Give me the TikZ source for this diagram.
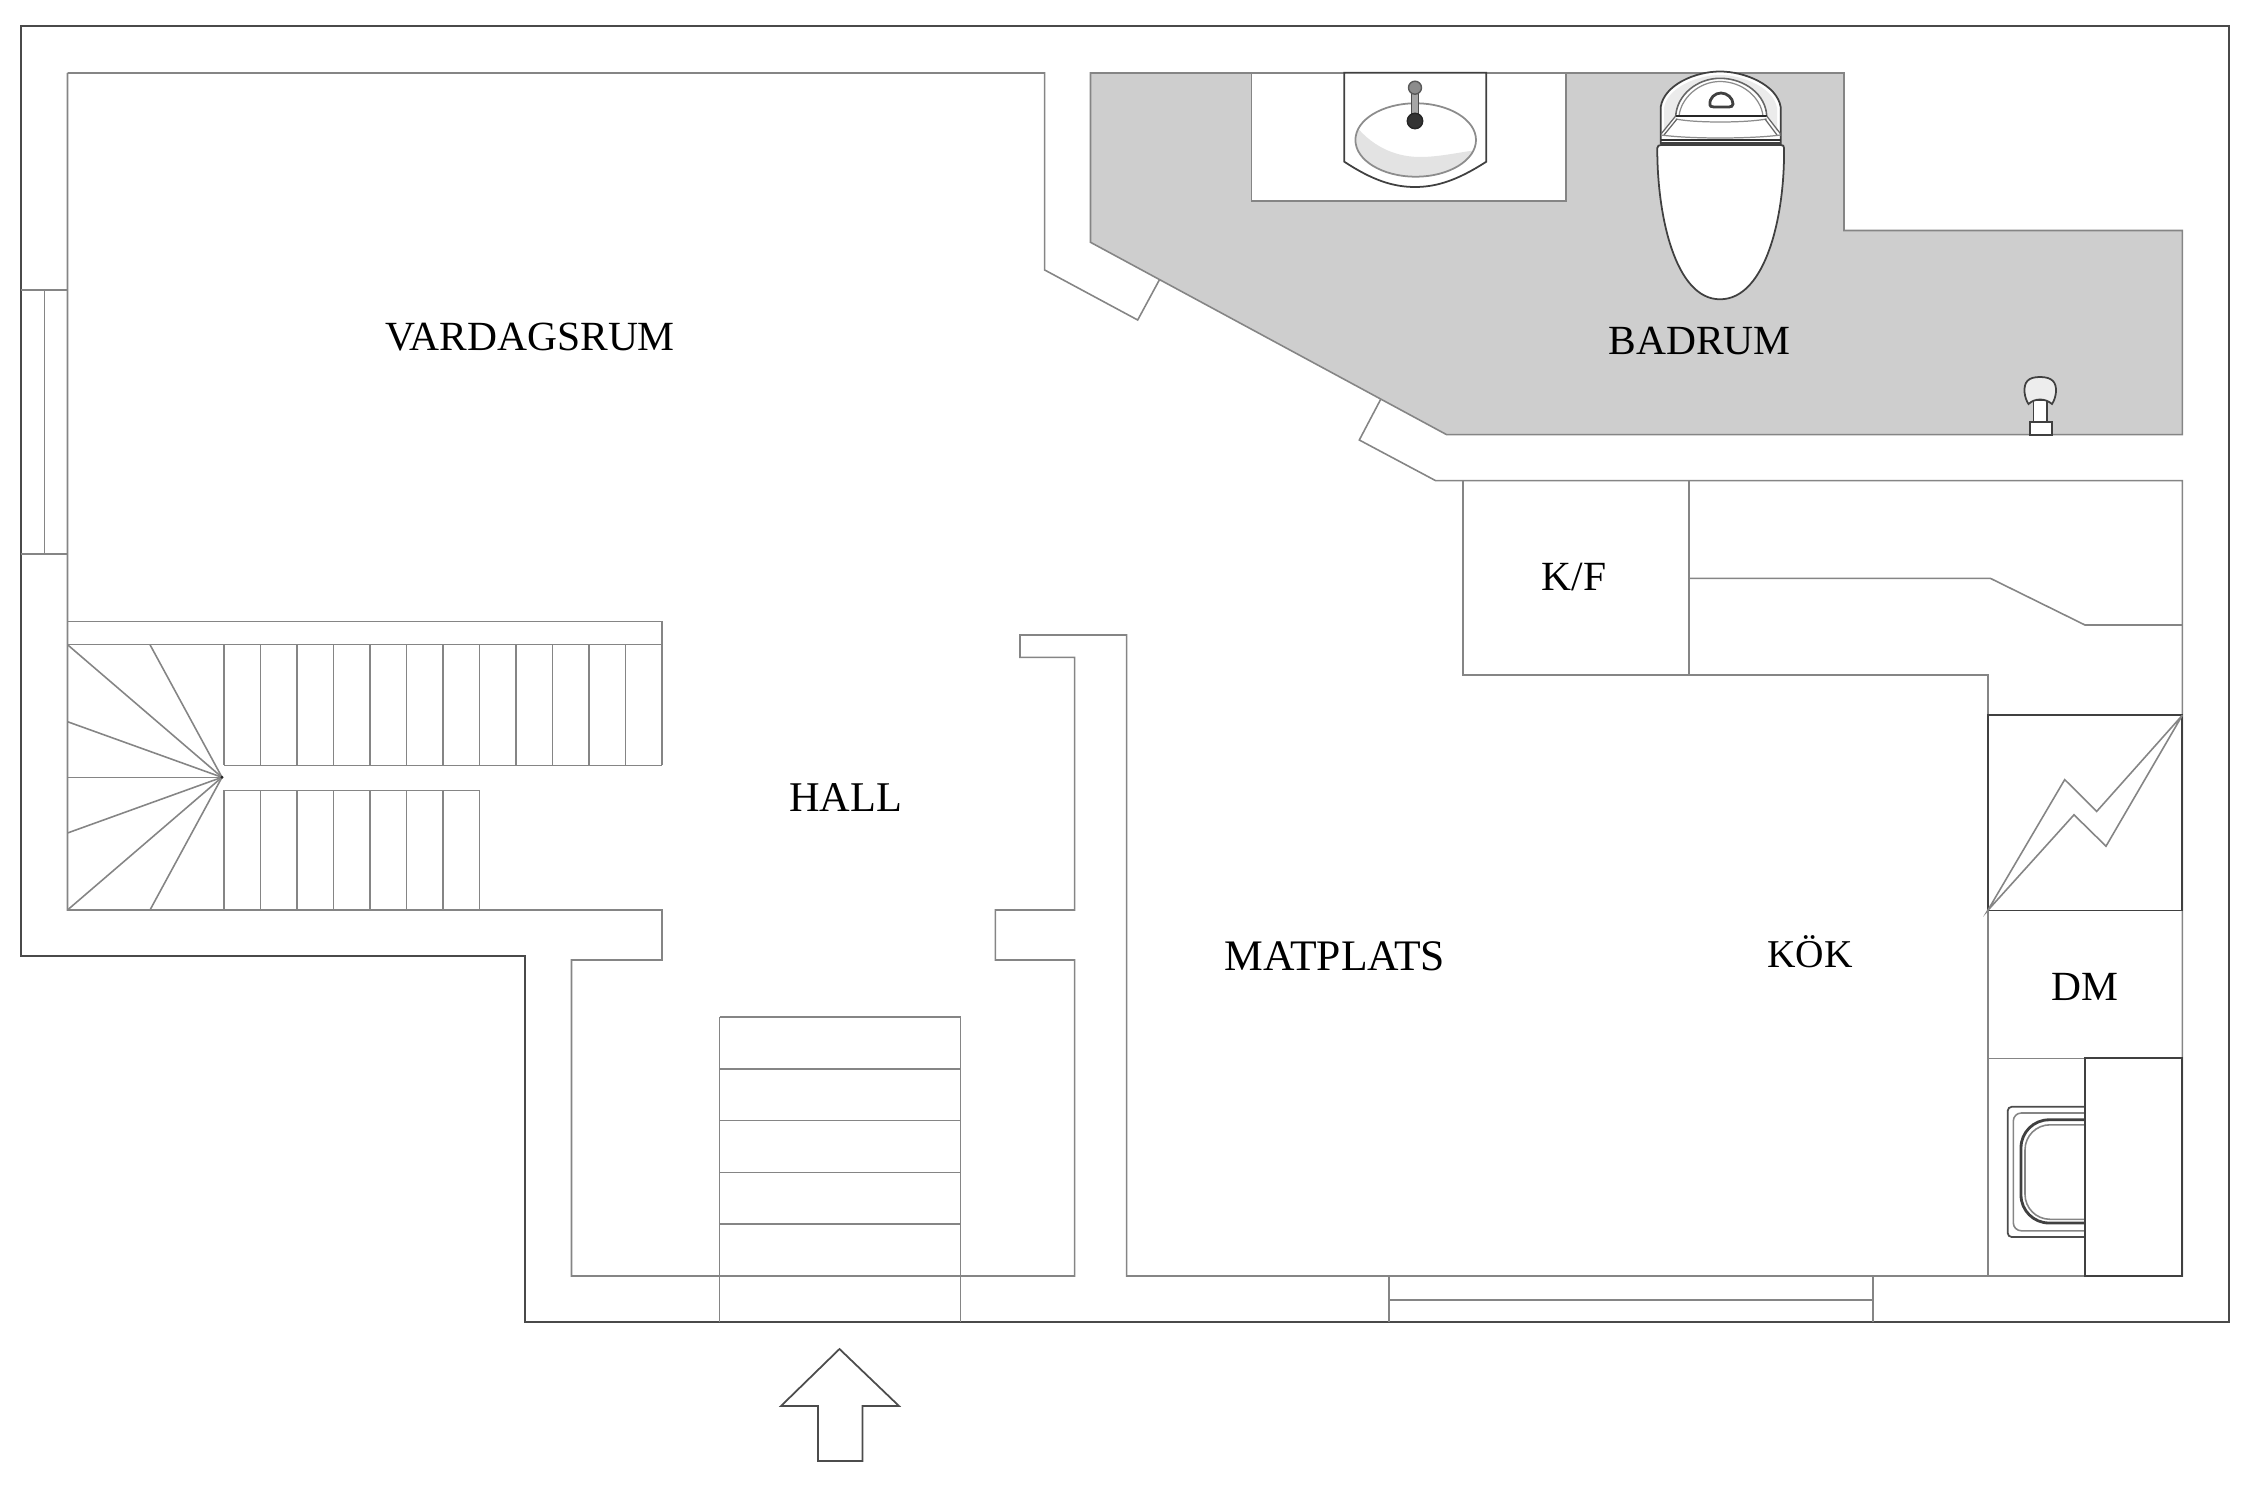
\documentclass[tikz,border=0pt]{standalone}
\usepackage{fontspec}
\setmainfont{Liberation Serif}
\usepackage{tikz}
\definecolor{bathgray}{HTML}{CECECE}
\definecolor{linegray}{HTML}{858585}
\definecolor{walldark}{HTML}{4A4A4A}
\tikzset{
wall/.style={draw=walldark, line width=0.6pt, line join=miter}, partition/.style={draw=linegray, line width=0.45pt}, fixture/.style={draw=black!75, line width=0.5pt, fill=white}, roomlabel/.style={font=\fontsize{11.8}{14}\selectfont, text=black, inner sep=0}}

\begin{document}
\begin{tikzpicture}[x=0.01cm, y=-0.01cm]
\useasboundingbox (0,0) rectangle (2250,1500);
% outer walls
\draw [wall] (20.7,26) -- (2229,26) -- (2229,1322) -- (524.7,1322) -- (524.7,956) -- (20.7,956) -- cycle;
\draw [partition] (20.7,290) -- (67.5,290) (20.7,554) -- (67.5,554) (44.5,290) -- (44.5,554);
\draw [partition] (1389,1276) -- (1389,1322) (1872.7,1276) -- (1872.7,1322) (1389,1300) -- (1872.7,1300);
% inner walls
\draw [partition] (67.5,73) -- (1044.7,73) -- (1044.7,270) -- (1137.7,320) -- (1159.3,280);
\draw [partition] (1380.7,399.3) -- (1359.3,440) -- (1435.7,480.7) -- (2182.3,480.7) -- (2182.3,1276) -- (1126.7,1276) -- (1126.7,635) -- (1020,635) -- (1020,657.3) -- (1074.7,657.3) -- (1074.7,910) -- (995.3,910) -- (995.3,960) -- (1074.7,960) -- (1074.7,1276) -- (571.5,1276) -- (571.5,960) -- (662,960) -- (662,910) -- (67.5,910) -- (67.5,73);
\draw [partition] (67.5,621.3) -- (662,621.3) -- (662,644.7) -- (67.5,644.7);
% bathroom
\draw [partition, fill=bathgray] (1090.5,73) -- (1844,73) -- (1844,230.5) -- (2182.3,230.5) -- (2182.3,434.7) -- (1446.7,434.7) -- (1090.5,242.3) -- cycle;
\draw [partition, fill=white] (1251.7,73) rectangle (1566,201);
% basin
\draw [fixture] (1344.3,72.7) -- (1344.3,161.7) .. controls (1372,180) and (1393,187) .. (1415,187) .. controls (1437,187) and (1458,180) .. (1486.3,161.7) -- (1486.3,72.7) -- cycle;
\begin{scope}
\clip (1415.7,140) ellipse [x radius=60.3, y radius=36.7];
\fill [black!11] (1355,125) .. controls (1375,150) and (1400,157) .. (1420,157) .. controls (1440,157) and (1460,152) .. (1478,150) -- (1478,180) -- (1355,180) -- cycle;
\end{scope}
\draw [draw=black!45, line width=0.5pt] (1415.7,140) ellipse [x radius=60.3, y radius=36.7];
\draw [draw=black!70, fill=black!35, line width=0.4pt] (1411.5,88) rectangle (1418.5,121);
\draw [draw=black!65, fill=black!45, line width=0.4pt] (1415,87.7) circle [radius=6.5];
\draw [draw=black!85, fill=black!80, line width=0.4pt] (1415,121) circle [radius=7.7];
% toilet
\draw [fixture] (1660.7,143) -- (1660.7,107) .. controls (1664,85) and (1695,71.5) .. (1720,71.5) .. controls (1745,71.5) and (1777,85) .. (1780.7,107) -- (1780.7,143) -- cycle;
\draw [fill=black!8, draw=none] (1664,108) .. controls (1667,88) and (1697,75) .. (1720,75) .. controls (1743,75) and (1774,88) .. (1777,108) -- (1777,132) -- (1766.7,116) .. controls (1766,95) and (1745,78.3) .. (1720,78.3) .. controls (1697,78.3) and (1677,95) .. (1675.7,116) -- (1664,132) -- cycle;
\draw [draw=black!60, line width=0.45pt, fill=white] (1675.7,116) .. controls (1677,95) and (1697,78.3) .. (1720,78.3) .. controls (1745,78.3) and (1766,95) .. (1766.7,116) -- cycle;
\draw [draw=black!45, line width=0.35pt] (1679,116) .. controls (1681,98) and (1699,81.5) .. (1720,81.5) .. controls (1743,81.5) and (1761,98) .. (1763,116);
\draw [draw=black!85, line width=0.7pt] (1675.7,116) -- (1766.7,116);
\draw [draw=black!45, line width=0.35pt] (1675.7,119) .. controls (1695,123) and (1745,123) .. (1766.7,119);
\draw [draw=black!60, line width=0.35pt] (1675.7,116) -- (1661,134) (1677,119) -- (1664,135) (1766.7,116) -- (1780.7,134) (1765,119) -- (1777,135);
\draw [draw=black!45, line width=0.35pt] (1661,135) .. controls (1690,139) and (1750,139) .. (1780.7,135);
\draw [fixture, fill=none, line width=0.8pt] (1710,105) .. controls (1709,98) and (1715,93) .. (1721,93) .. controls (1727,93) and (1733,98) .. (1733,104) .. controls (1733,106) and (1731,107) .. (1729,107) -- (1714,107) .. controls (1711,107) and (1710,106) .. (1710,105) -- cycle;
\draw [draw=black!80, line width=0.5pt] (1661,140) -- (1780.7,140);
\draw [fixture] (1657.3,148) .. controls (1657.3,146) and (1659,145) .. (1661,145) -- (1781,145) .. controls (1783,145) and (1784,146) .. (1784,148) .. controls (1785,215) and (1766,299.3) .. (1720,299.3) .. controls (1675,299.3) and (1657,215) .. (1657.3,148) -- cycle;
% valve
\draw [fixture] (2030,422) rectangle (2052,435);
\draw [fixture] (2033.5,400) rectangle (2047,422);
\draw [fixture, fill=black!7] (2024.5,392) .. controls (2024,382) and (2028,377) .. (2040,377) .. controls (2052,377) and (2056.5,382) .. (2056,392) .. controls (2055.5,397) and (2054,401) .. (2052,404) .. controls (2045,398) and (2035,398) .. (2028.5,404) .. controls (2026.5,401) and (2025,397) .. (2024.5,392) -- cycle;
% kitchen
\draw [partition] (1462.7,480.7) -- (1462.7,675) -- (1987.7,675) -- (1987.7,1276);
\draw [partition] (1689,480.7) -- (1689,675);
\draw [partition] (1689,578.3) -- (1990.3,578.3) -- (2085,625) -- (2182.3,625);
\draw [partition] (1987.7,1058.6) -- (2085.3,1058.6);
\draw [draw=black!70, line width=0.5pt, rounded corners=0.04cm] (2085.3,1106.8) -- (2007.7,1106.8) -- (2007.7,1237) -- (2085.3,1237);
\draw [partition, rounded corners=0.08cm] (2085.3,1113) -- (2013.3,1113) -- (2013.3,1230.8) -- (2085.3,1230.8);
\draw [draw=black!75, line width=0.8pt, rounded corners=0.28cm] (2085.3,1119.8) -- (2021,1119.8) -- (2021,1223) -- (2085.3,1223);
\draw [partition, rounded corners=0.25cm] (2085.3,1124.8) -- (2025,1124.8) -- (2025,1219.3) -- (2085.3,1219.3);
\draw [fixture] (2085.3,1058) rectangle (2182.3,1276);
\draw [fixture] (1987.7,715.3) rectangle (2182.3,910.5);
\draw [partition] (1987.7,910.5) -- (2064.7,779.6) -- (2096.7,811.4) -- (2182.3,715.3) -- (2106,846.2) -- (2074,814.8) -- cycle;
% stairs
\foreach \i [evaluate={\sx=224+36.5*\i;}] in {0,...,12}{
      \draw [partition] (\sx,644.7) -- (\sx,765.3);
      \ifnum\i<8
          \draw [partition] (\sx,790.3) -- (\sx,910);
      \fi
}
\draw [partition] (224,765.3) -- (662,765.3) (224,790.3) -- (479.5,790.3);
\coordinate (newel) at (222,777.3);
\foreach \rx/\ry in {67.5/644.7, 150/644.7, 67.5/721.7, 67.5/777.3, 67.5/833, 67.5/910, 150/910}{
      \draw [partition] (newel) -- (\rx,\ry);
}
\fill [black!85] (newel) circle [radius=1.6];
% entrance steps
\draw [partition] (719.5,1017) -- (960.5,1017) -- (960.5,1322) (719.5,1017) -- (719.5,1322);
\foreach \sy in {1069,1120.7,1172.4,1224}{
      \draw [partition] (719.5,\sy) -- (960.5,\sy);
}
% entrance arrow
\draw [draw=black!70, line width=0.5pt] (839.5,1349) -- (899,1406) -- (862.4,1406) -- (862.4,1461) -- (818,1461) -- (818,1406) -- (781,1406) -- cycle;
% room names
\node [roomlabel] at (530,337) (vardagsrum) {VARDAGSRUM};
\node [roomlabel] at (1699.5,341.5) (badrum) {BADRUM};
\node [roomlabel, scale=1.02] at (845.5,798) (hall) {HALL};
\node [roomlabel, scale=1.05] at (1335,956) (matplats) {MATPLATS};
\node [roomlabel, scale=0.95] at (1810,952) (kok) {KÖK};
\node [roomlabel] at (1574,577) (kf) {K/F};
\node [roomlabel] at (2085,987) (dm) {DM};
\end{tikzpicture}
\end{document}
